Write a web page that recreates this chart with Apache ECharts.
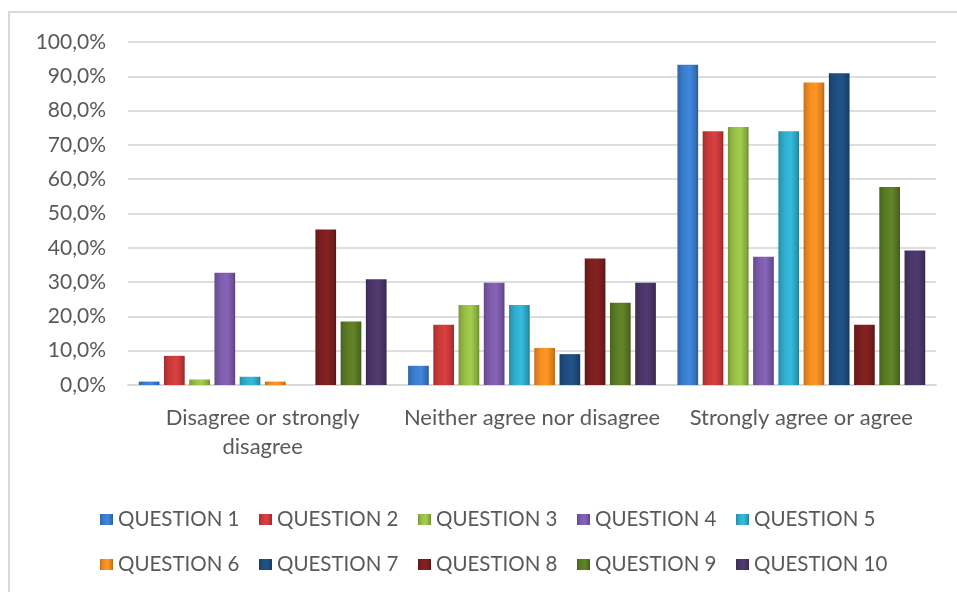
<!DOCTYPE html>
<html lang="en">

<head>
    <meta charset="UTF-8" />
    <title>Agreement by question</title>
    <script src="https://cdn.jsdelivr.net/npm/echarts@6/dist/echarts.min.js"></script>
    <style>
        html, body {
            margin: 0;
            padding: 0;
            background: #fff;
        }

        #main {
            width: 957px;
            height: 592px;
        }
    </style>
</head>

<body>
    <div id="main"></div>

    <script>
        // answer categories (x axis)
        const categories = ['Disagree or strongly disagree', 'Neither agree nor disagree', 'Strongly agree or agree'];

        // percentages, one array per question
        const q1 = [1.0, 5.6, 93.4];
        const q2 = [8.5, 17.6, 74.0];
        const q3 = [1.6, 23.3, 75.2];
        const q4 = [32.7, 29.8, 37.4];
        const q5 = [2.4, 23.3, 74.0];
        const q6 = [1.0, 10.8, 88.2];
        const q7 = [0, 9.0, 90.9];
        const q8 = [45.3, 36.9, 17.6];
        const q9 = [18.5, 24.0, 57.7];
        const q10 = [30.8, 29.8, 39.2];

        const seriesNames = ['QUESTION 1', 'QUESTION 2', 'QUESTION 3', 'QUESTION 4', 'QUESTION 5',
            'QUESTION 6', 'QUESTION 7', 'QUESTION 8', 'QUESTION 9', 'QUESTION 10'];
        const seriesValues = [q1, q2, q3, q4, q5, q6, q7, q8, q9, q10];

        const colors = ['#3b7dce', '#cc3a3a', '#98bf46', '#7d5cac', '#31aecd',
            '#f58d22', '#1f4d80', '#7c1f1f', '#5b7b24', '#4a3668'];

        function shade(hex, f) {
            let n = parseInt(hex.slice(1), 16);
            let r = Math.round(((n >> 16) & 255) * f);
            let g = Math.round(((n >> 8) & 255) * f);
            let b = Math.round((n & 255) * f);
            return 'rgb(' + Math.min(r, 255) + ',' + Math.min(g, 255) + ',' + Math.min(b, 255) + ')';
        }

        const fontFamily = 'Lato, "Open Sans", sans-serif';
        const textColor = '#595959';

        var chartDom = document.getElementById('main');
        var myChart = echarts.init(chartDom);

        let series = seriesNames.map(function (name, i) {
            let c = colors[i];
            return {
                name: name,
                type: 'bar',
                data: seriesValues[i],
                barGap: '22%',
                barCategoryGap: '8%',
                itemStyle: {
                    color: new echarts.graphic.LinearGradient(0, 0, 1, 0, [
                        { offset: 0, color: shade(c, 0.78) },
                        { offset: 0.12, color: shade(c, 0.9) },
                        { offset: 0.3, color: c },
                        { offset: 0.6, color: shade(c, 1.08) },
                        { offset: 0.88, color: shade(c, 0.88) },
                        { offset: 1, color: shade(c, 0.72) }
                    ])
                },
                emphasis: { disabled: true }
            };
        });

        function legendRow(names, top) {
            return {
                data: names,
                left: 100,
                top: top,
                padding: 0,
                itemWidth: 13,
                itemHeight: 11,
                itemGap: 19.5,
                icon: 'rect',
                selectedMode: false,
                textStyle: {
                    color: textColor,
                    fontFamily: fontFamily,
                    fontSize: 20.5
                }
            };
        }

        var option = {
            animation: false,
            color: colors,
            grid: {
                left: 128,
                right: 21,
                top: 42,
                bottom: 207
            },
            legend: [
                legendRow(seriesNames.slice(0, 5), 509),
                legendRow(seriesNames.slice(5), 554)
            ],
            xAxis: {
                type: 'category',
                data: categories,
                axisTick: { show: false },
                axisLine: { lineStyle: { color: '#d9d9d9', width: 2 } },
                axisLabel: {
                    interval: 0,
                    color: textColor,
                    fontFamily: fontFamily,
                    fontSize: 22,
                    margin: 18,
                    lineHeight: 29,
                    formatter: function (v) {
                        return v === 'Disagree or strongly disagree' ? 'Disagree or strongly\ndisagree' : v;
                    }
                }
            },
            yAxis: {
                type: 'value',
                min: 0,
                max: 100,
                interval: 10,
                axisLine: { show: false },
                axisTick: { show: false },
                splitLine: { lineStyle: { color: '#dedede', width: 2 } },
                axisLabel: {
                    color: textColor,
                    fontFamily: fontFamily,
                    fontSize: 21,
                    margin: 22,
                    formatter: function (v) {
                        return v.toFixed(1).replace('.', ',') + '%';
                    }
                }
            },
            graphic: [
                {
                    type: 'rect',
                    shape: { x: 9, y: 12, width: 980, height: 620 },
                    style: { fill: 'none', stroke: '#d9d9d9', lineWidth: 2 },
                    silent: true,
                    z: -1
                }
            ],
            series: series
        };

        myChart.setOption(option);
    </script>
</body>

</html>
